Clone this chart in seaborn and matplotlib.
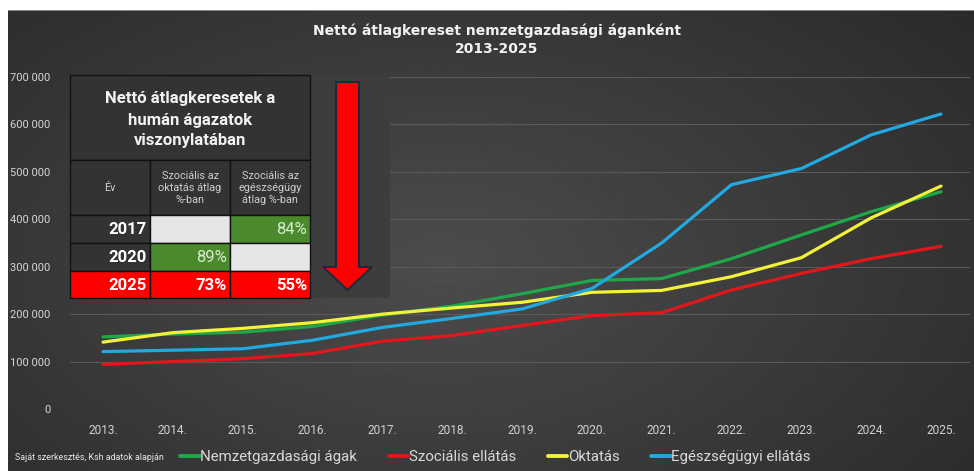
import numpy as np
import pandas as pd
import matplotlib
matplotlib.use("Agg")
import matplotlib.pyplot as plt
import seaborn as sns
from matplotlib.patches import Rectangle, Polygon
from matplotlib.ticker import FuncFormatter

# ---------------- data ----------------
years = ["2013.", "2014.", "2015.", "2016.", "2017.", "2018.", "2019.",
         "2020.", "2021.", "2022.", "2023.", "2024.", "2025."]
nemzetgazdasagi = [152000, 158000, 162000, 174000, 198000, 217000, 243000,
                   271000, 275000, 317000, 367000, 416000, 458000]
szocialis = [94000, 100000, 106000, 117000, 143000, 155000, 176000,
             197000, 203000, 251000, 286000, 317000, 343000]
oktatas = [141000, 161000, 170000, 182000, 200000, 213000, 225000,
           246000, 250000, 279000, 319000, 403000, 470000]
egeszsegugyi = [121000, 124000, 127000, 145000, 172000, 191000, 211000,
                254000, 350000, 473000, 507000, 578000, 622000]
series_names = ["Nemzetgazdasági ágak", "Szociális ellátás", "Oktatás",
                "Egészségügyi ellátás"]
series_colors = ["#1ea84a", "#e3161b", "#f2f23a", "#22a9e1"]

table_title = "Nettó átlagkeresetek a\nhumán ágazatok\nviszonylatában"
table_headers = ["Év", "Szociális az\noktatás átlag\n%-ban",
                 "Szociális az\negészségügy\nátlag %-ban"]
table_years = ["2017", "2020", "2025"]
table_oktatas_pct = ["", "89%", "73%"]
table_egeszseg_pct = ["84%", "", "55%"]

chart_title = "Nettó átlagkereset nemzetgazdasági áganként\n2013-2025"
source_note = "Saját szerkesztés, Ksh adatok alapján"

df = pd.DataFrame({
    "idx": list(range(len(years))) * 4,
    "value": nemzetgazdasagi + szocialis + oktatas + egeszsegugyi,
    "series": sum([[n] * len(years) for n in series_names], []),
})

# ---------------- figure ----------------
sns.set_theme(style="dark")
plt.rcParams["font.family"] = ["Roboto", "DejaVu Sans"]
W, H = 974, 471
fig = plt.figure(figsize=(W / 100, H / 100), dpi=100)
fig.patch.set_facecolor("white")

# background gradient panel
bg = fig.add_axes([8 / W, 0, 1 - 8 / W, 461 / H], zorder=0)
gy, gx = np.mgrid[0:1:200j, 0:1:400j]
d = np.sqrt(((gx - 0.45) / 0.75) ** 2 + ((gy - 0.55) / 0.9) ** 2)
val = 0.30 - 0.14 * np.clip(d, 0, 1)
bg.imshow(val, cmap="gray", vmin=0, vmax=1, aspect="auto",
          extent=[0, 1, 0, 1], interpolation="bilinear")
bg.axhline(1, color="#9a9a9a", lw=1.2)
bg.set_axis_off()

# main axes
ax = fig.add_axes([70 / W, 62 / H, 900 / W, 332 / H], zorder=2)
ax.patch.set_alpha(0)
sns.lineplot(data=df, x="idx", y="value", hue="series", hue_order=series_names,
             palette=series_colors, linewidth=2.3, ax=ax, legend=True)
ax.set_xlim(-0.473, 12.415)
ax.set_ylim(0, 700000)
ax.set_yticks(np.arange(0, 700001, 100000))
ax.yaxis.set_major_formatter(FuncFormatter(lambda v, p: f"{int(v):,}".replace(",", " ")))
ax.set_xticks(range(len(years)))
ax.set_xticklabels(years)
ax.set_xlabel("")
ax.set_ylabel("")
ax.grid(axis="y", color="#5a5a5a", linewidth=0.8)
ax.grid(axis="x", visible=False)
for s in ax.spines.values():
    s.set_visible(False)
ax.tick_params(axis="y", length=0, pad=14, labelsize=8, labelcolor="#d6d6d6")
ax.tick_params(axis="x", length=0, pad=11, labelsize=8.6, labelcolor="#d0d0d0")

sns.move_legend(ax, loc="center left", bbox_to_anchor=(180 / W, 1 - 457 / H),
                bbox_transform=fig.transFigure, ncol=4, frameon=False,
                title=None, fontsize=10.8, handlelength=1.3, handletextpad=0.05,
                columnspacing=2.1, borderpad=0, borderaxespad=0)
leg = ax.get_legend()
for t in leg.get_texts():
    t.set_color("#d9d9d9")
for h in leg.get_lines():
    h.set_linewidth(2.8)

fig.text(15 / W, 1 - 457 / H, source_note, fontsize=6.4, color="#e8e8e8",
         va="center", ha="left")

fig.text(497 / W, 1 - 40 / H, chart_title, fontsize=10, fontweight="bold",
         color="#f2f2f2", ha="center", va="center", linespacing=1.35,
         family=["DejaVu Sans"])

# ---------------- overlay table ----------------
ov = fig.add_axes([0, 0, 1, 1], zorder=5)
ov.set_xlim(0, W)
ov.set_ylim(H, 0)
ov.set_axis_off()
ov.patch.set_alpha(0)

# arrow panel
ov.add_patch(Rectangle((310, 77), 80, 221, facecolor="#3d3d3d", edgecolor="none"))
arrow = Polygon([(336, 82), (359, 82), (359, 267), (372, 267), (347.5, 290),
                 (323, 267), (336, 267)], closed=True, facecolor="#ff0000",
                edgecolor="#1e2a3a", linewidth=1.5)
ov.add_patch(arrow)

cols = [70, 150, 230, 310]
rows = [215, 243, 271, 298]
dark = "#333333"
edge = "#111111"
narrow = ["Liberation Sans Narrow", "Roboto", "DejaVu Sans"]
# title cell
ov.add_patch(Rectangle((70, 75), 240, 85, facecolor=dark, edgecolor=edge, lw=1))
ov.text(190, 120, table_title, ha="center", va="center", fontsize=12,
        fontweight="bold", color="#f2f2f2", linespacing=1.5, family=narrow)
# header row
for i in range(3):
    ov.add_patch(Rectangle((cols[i], 160), cols[i + 1] - cols[i], 55,
                           facecolor=dark, edgecolor=edge, lw=1))
    ov.text((cols[i] + cols[i + 1]) / 2, 188, table_headers[i], ha="center",
            va="center", fontsize=7.8, color="#cfcfcf", linespacing=1.2,
            family=narrow)


def cell_style(txt, row):
    if row == 2:
        return "#ff0000", "#ffffff"
    if txt:
        return "#4a8a2c", "#d8ecd0"
    return "#e6e6e6", "#333333"


for r in range(3):
    y0, y1 = rows[r], rows[r + 1]
    ycen = (y0 + y1) / 2
    ycol = "#ff0000" if r == 2 else dark
    ov.add_patch(Rectangle((cols[0], y0), cols[1] - cols[0], y1 - y0,
                           facecolor=ycol, edgecolor=edge, lw=1))
    ov.text(cols[1] - 3, ycen + 1, table_years[r], ha="right", va="center",
            fontsize=12, fontweight="bold", color="#ffffff", family=narrow)
    for c, txt in ((1, table_oktatas_pct[r]), (2, table_egeszseg_pct[r])):
        fc, tc = cell_style(txt, r)
        ov.add_patch(Rectangle((cols[c], y0), cols[c + 1] - cols[c], y1 - y0,
                               facecolor=fc, edgecolor=edge, lw=1))
        if txt:
            ov.text(cols[c + 1] - 3, ycen + 1, txt, ha="right", va="center",
                    fontsize=12, fontweight="bold" if r == 2 else "normal",
                    color=tc, family=narrow)

fig.savefig("out.png", dpi=100, facecolor=fig.get_facecolor())
